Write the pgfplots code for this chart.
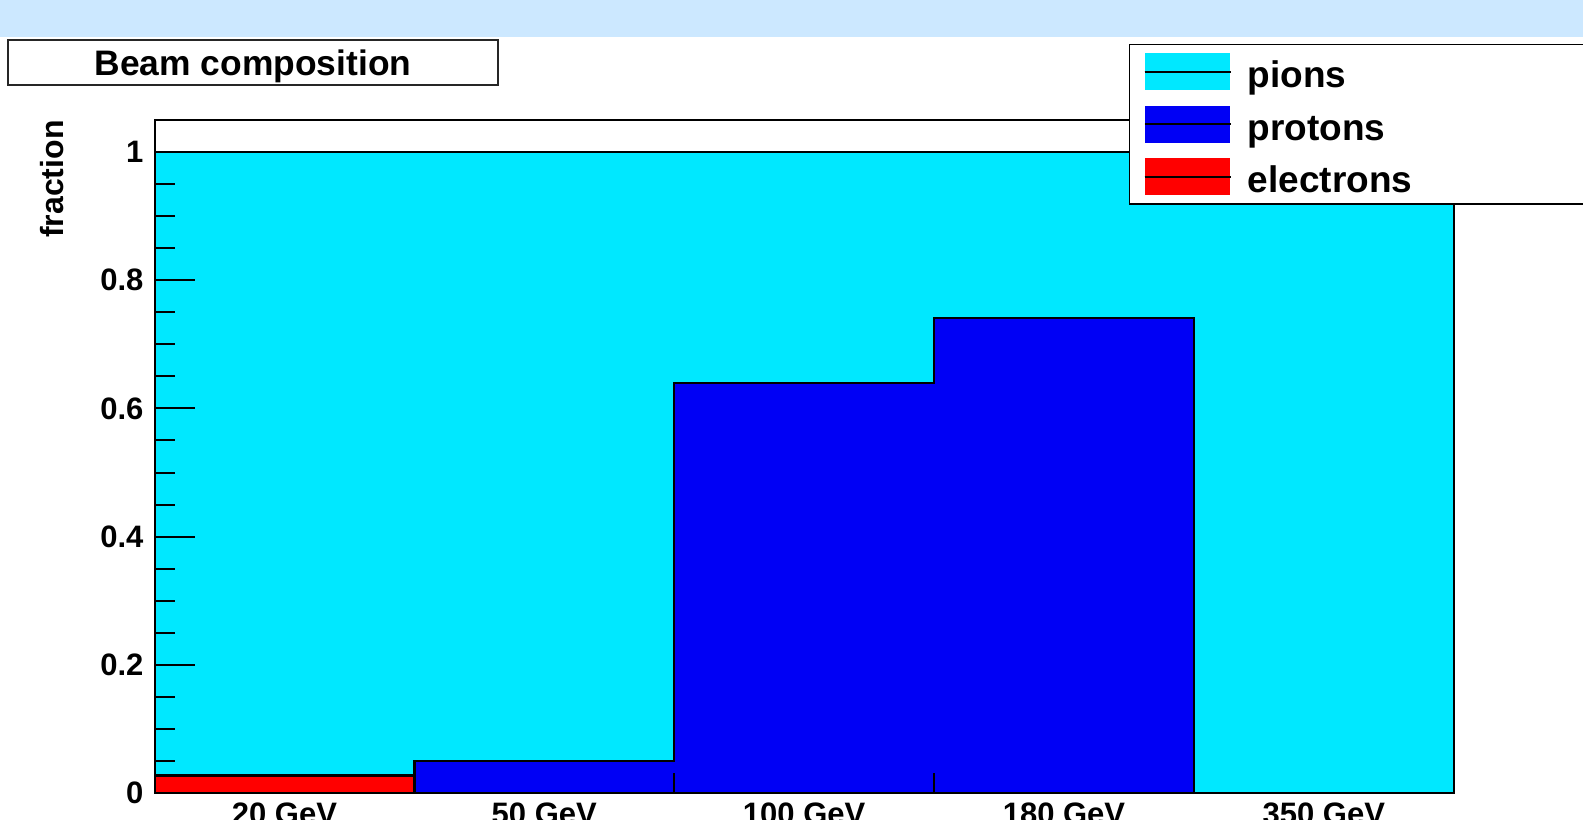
\documentclass[border=0pt]{standalone}
\usepackage{fontspec}
\setmainfont{Liberation Sans}
\usepackage{pgfplots}
\pgfplotsset{compat=1.18}

\definecolor{pioncol}{HTML}{00E8FF}
\definecolor{protoncol}{HTML}{0000F5}
\definecolor{electroncol}{HTML}{FF0000}
\definecolor{bandcol}{HTML}{CCE8FF}

\begin{document}
\begin{tikzpicture}[x=1pt,y=1pt]
\path[use as bounding box] (0,0) rectangle (791.5,409.5);
\clip (0,0) rectangle (791.5,409.5);
% header band
\fill[bandcol] (0,391) rectangle (791.5,409.5);
% title pave
\draw[line width=0.7pt, black!85, fill=white] (4,367) rectangle (249,389.5);
\node[anchor=base, inner sep=0pt, font=\bfseries\fontsize{17.7pt}{17.7pt}\selectfont]
  at (126.5,371.7) {Beam composition};

\begin{axis}[
  at={(77.25pt,13pt)}, anchor=south west,
  scale only axis, width=649.65pt, height=336.5pt,
  xmin=0, xmax=5, ymin=0, ymax=1.05,
  enlargelimits=false,
  axis on top,
  axis line style={line width=1pt, black},
  tick pos=left,
  tick align=inside,
  every tick/.style={line width=1pt, black},
  major tick length=20pt,
  minor tick length=10pt,
  xtick={0.5,1.5,2.5,3.5,4.5},
  xticklabels={20 GeV,50 GeV,100 GeV,180 GeV,350 GeV},
  major x tick style={draw=none},
  minor xtick={0,1,2,3,4,5},
  ytick={0,0.2,0.4,0.6,0.8,1},
  minor y tick num=3,
  /pgf/number format/assume math mode=true,
  ticklabel style={font=\bfseries\fontsize{15.5pt}{15.5pt}\selectfont},
  xticklabel style={yshift=-1.5pt},
  yticklabel style={xshift=-2pt},
  ylabel={fraction},
  ylabel style={at={(axis description cs:-0.0704,1)}, anchor=base east,
    inner sep=0pt, font=\bfseries\fontsize{16pt}{16pt}\selectfont},
  stack plots=y,
  reverse legend,
  legend cell align=left,
  legend image code/.code={
    \fill[#1, draw=none] (0pt,-9.25pt) rectangle (42.5pt,9.25pt);
    \draw[black, line width=1pt] (0pt,0pt) -- (43pt,0pt);
  },
  legend style={at={(0.750,1.113)}, anchor=north west,
    draw=black, line width=0.7pt, fill=white,
    inner xsep=7pt, inner ysep=0.5pt, column sep=8pt, row sep=0pt,
    nodes={anchor=west, text width=200pt, text height=21.1pt, text depth=5.15pt,
      inner xsep=0pt, inner ysep=0pt, align=left,
      font=\bfseries\fontsize{18.5pt}{18.5pt}\selectfont}},
]
% electrons (bottom of the stack)
\addplot[const plot mark left, fill=electroncol, draw=black, line width=1.2pt]
  coordinates {(0,0.027) (1,0) (2,0) (3,0) (4,0) (5,0)} \closedcycle;
\addlegendentry{electrons}
% protons
\addplot[const plot mark left, fill=protoncol, draw=black, line width=1.2pt]
  coordinates {(0,0) (1,0.050) (2,0.640) (3,0.741) (4,0) (5,0)} \closedcycle;
\addlegendentry{protons}
% pions
\addplot[const plot mark left, fill=pioncol, draw=black, line width=1.2pt]
  coordinates {(0,0.973) (1,0.950) (2,0.360) (3,0.259) (4,1.000) (5,1.000)} \closedcycle;
\addlegendentry{pions}
\end{axis}
\end{tikzpicture}
\end{document}
